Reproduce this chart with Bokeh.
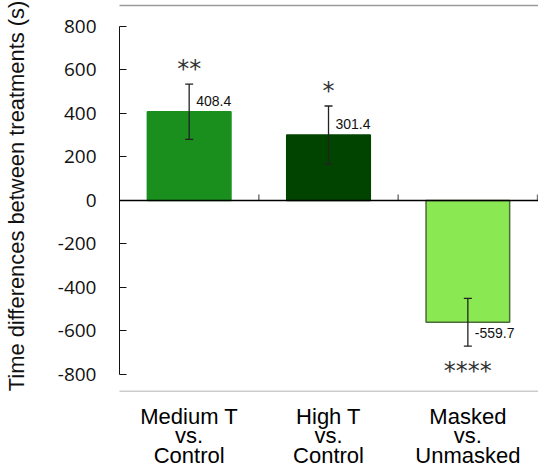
import math
from bokeh.plotting import figure
from bokeh.models import (Range1d, LinearAxis, FixedTicker, ColumnDataSource,
                          Whisker, TeeHead, BoxAnnotation, Span)
from bokeh.core.properties import value
from bokeh.embed import file_html
from bokeh.resources import INLINE

categories = ["Medium T\nvs.\nControl", "High T\nvs.\nControl", "Masked\nvs.\nUnmasked"]
positions = [0.5, 1.5, 2.5]
differences = [408.4, 301.4, -559.7]
errors = [127, 133, 110]
stars = ["**", "*", "****"]
colors = ["#1a8f1e", "#004400", "#8ae852"]
outline = ["#1a8f1e", "#004400", "#4b6b3a"]
y_ticks = [-800, -600, -400, -200, 0, 200, 400, 600, 800]
boundaries = [1, 2, 3]

upper = [v + e for v, e in zip(differences, errors)]
lower = [v - e for v, e in zip(differences, errors)]
sign = [1 if v >= 0 else -1 for v in differences]
label_y = [v + s * 50 for v, s in zip(differences, sign)]
star_y = [(u + 88) if s > 0 else (l - 96) for u, l, s in zip(upper, lower, sign)]

src = ColumnDataSource(dict(x=positions, top=differences, upper=upper, lower=lower,
                            color=colors, line=outline,
                            label=[f"{v:.1f}" for v in differences], label_y=label_y,
                            stars=stars, star_y=star_y))

p = figure(width=538, height=470, x_range=Range1d(0, 3.007), y_range=Range1d(-878.2, 919.5),
           x_axis_location=None, y_axis_location=None,
           min_border_left=115, min_border_right=0, min_border_top=0, min_border_bottom=79,
           output_backend="svg", toolbar_location=None, outline_line_color=None)
p.grid.visible = False

box = BoxAnnotation(left=42, right=700, top=5, bottom=391,
                    left_units="canvas", right_units="canvas",
                    top_units="canvas", bottom_units="canvas",
                    fill_color=None, fill_alpha=0, line_color="#9a9a9a", line_alpha=1,
                    line_width=1.5, level="annotation")
p.add_layout(box)

p.vbar(x="x", top="top", bottom=0, width=0.6, fill_color="color", line_color="line",
       line_width=1.5, source=src)

p.add_layout(Span(location=0, dimension="width", line_color="#000000", line_width=1.3))
p.ray(x=boundaries, y=[0] * len(boundaries), length=6, length_units="screen",
      angle=math.pi / 2, line_color="#777777", line_width=1.5)

wh = Whisker(base="x", upper="upper", lower="lower", source=src, level="annotation",
             line_color="#222222", line_width=1.3,
             upper_head=TeeHead(size=8, line_color="#222222", line_width=1.3),
             lower_head=TeeHead(size=8, line_color="#222222", line_width=1.3))
p.add_layout(wh)

p.text(x="x", y="label_y", text="label", source=src, x_offset=7,
       text_align="left", text_baseline="middle", text_font=value("Liberation Sans"),
       text_font_size="14px", text_color="#111111")
p.text(x="x", y="star_y", text="stars", source=src, y_offset=4,
       text_align="center", text_baseline="middle", text_font=value("DejaVu Sans"),
       text_font_size="24px", text_color="#333333")

yaxis = LinearAxis(ticker=FixedTicker(ticks=y_ticks), bounds=(-800, 800),
                   major_label_overrides={t: str(t) for t in y_ticks},
                   axis_label="Time differences between treatments (s)",
                   axis_label_text_font="Liberation Sans", axis_label_text_font_size="21.9px",
                   axis_label_text_font_style="normal", axis_label_text_color="#111111",
                   axis_label_standoff=26,
                   major_label_text_font="Open Sans", major_label_text_font_size="19px",
                   major_label_text_color="#111111", major_label_standoff=23,
                   major_tick_in=7, major_tick_out=0, minor_tick_line_color=None,
                   axis_line_color="#111111", major_tick_line_color="#111111")
p.add_layout(yaxis, "left")

cat_axis = LinearAxis(ticker=FixedTicker(ticks=positions),
                      major_label_overrides={pos: c for pos, c in zip(positions, categories)},
                      axis_line_color=None, major_tick_line_color=None, minor_tick_line_color=None,
                      major_tick_in=0, major_tick_out=0, major_label_standoff=12,
                      major_label_text_font="Liberation Sans", major_label_text_font_size="22px",
                      major_label_text_line_height=0.78, major_label_text_color="#000000")
p.add_layout(cat_axis, "below")

open("out.html", "w").write(file_html(p, INLINE))
